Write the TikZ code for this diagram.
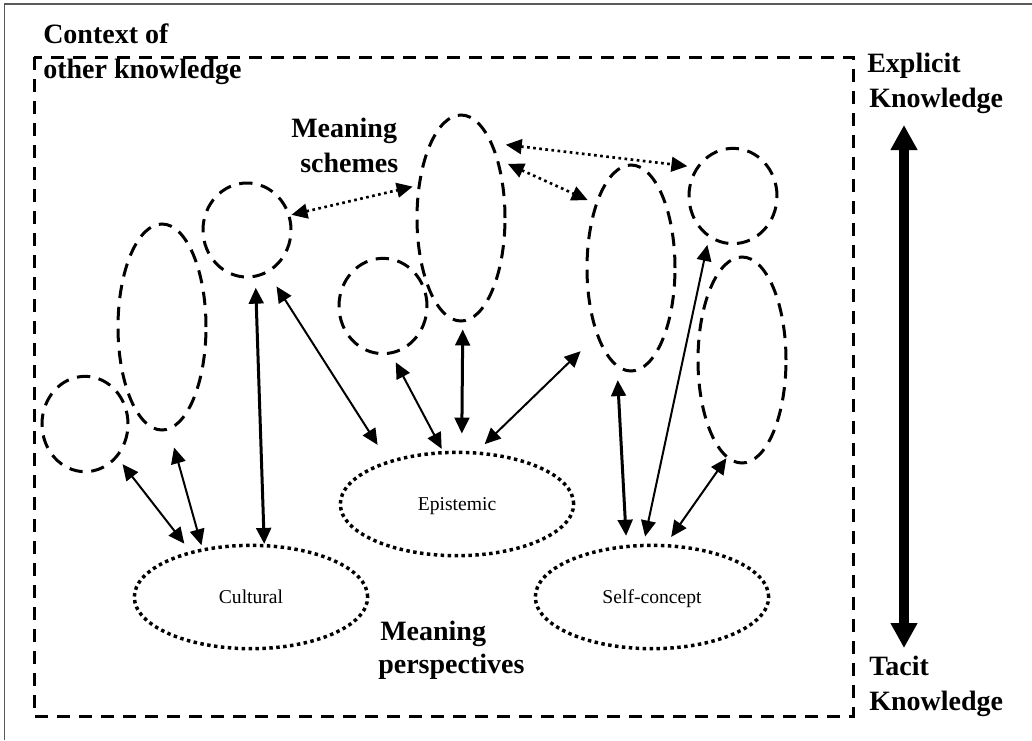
\documentclass[tikz,border=0pt]{standalone}
\usepackage{fontspec}
\setmainfont{Liberation Serif}
\usetikzlibrary{arrows.meta,shapes.geometric}

\begin{document}
\begin{tikzpicture}[x=0.75pt,y=-0.75pt,
  % dashed ellipses: meaning schemes
  scheme/.style={draw, ellipse, inner sep=0pt, line width=2.25pt,
    dash pattern=on 10pt off 6.5pt},
  tall/.style={scheme, minimum width=66pt, minimum height=154.5pt},
  roundish/.style={scheme, minimum width=66pt, minimum height=71.5pt},
  % dotted ellipses: meaning perspectives
  perspective/.style={draw, ellipse, inner sep=0pt, line width=2.6pt,
    dash pattern=on 2.6pt off 2.6pt, minimum width=175pt, minimum height=77.5pt,
    text height=12pt, text depth=3pt,
    font=\fontsize{14.7pt}{17pt}\selectfont},
  heading/.style={anchor=base west, inner sep=0pt,
    font=\fontsize{21pt}{25pt}\selectfont\bfseries},
  link/.style={{Triangle[length=12pt,width=11pt]}-{Triangle[length=12pt,width=11pt]}, line width=1.5pt},
  strong/.style={link, line width=2.25pt},
  dotlink/.style={{Triangle[length=12pt,width=11pt]}-{Triangle[length=12pt,width=11pt]},
    line width=2pt, dash pattern=on 2pt off 2.6pt},
]
\useasboundingbox (0,0) rectangle (1032,740);

% frame lines on the top and left
\draw[line width=1pt, black!65] (4.5,740) -- (4.5,4) -- (1032,4);

% context of other knowledge
\draw[line width=2.25pt, dash pattern=on 9.75pt off 6.75pt] (34,57) rectangle (853,716);

% headings
\node[heading] (ctx1) at (43,43) {Context of};
\node[heading] (ctx2) at (43,78) {other knowledge};
\node[heading] (exp1) at (867,72) {Explicit};
\node[heading] (exp2) at (869,107) {Knowledge};
\node[heading] (tac1) at (869,675) {Tacit};
\node[heading] (tac2) at (869,710) {Knowledge};
\node[heading] (ms1) at (291,137) {Meaning};
\node[heading] (ms2) at (300,172) {schemes};
\node[heading] (mp1) at (380,640) {Meaning};
\node[heading] (mp2) at (378,673) {perspectives};

% meaning schemes
\node[roundish, minimum width=64.5pt] (A) at (85,424) {};
\node[tall] (B) at (162,327) {};
\node[roundish, minimum height=70.5pt] (C) at (247,230) {};
\node[tall] (D) at (461,218) {};
\node[roundish] (E) at (383,306) {};
\node[tall] (F) at (631,268) {};
\node[roundish] (G) at (733,196) {};
\node[tall] (H) at (742,360) {};

% meaning perspectives
\node[perspective] (Cul) at (251,597) {Cultural};
\node[perspective] (Epi) at (457,504) {Epistemic};
\node[perspective] (Self) at (652,597) {Self-concept};

% links between schemes and perspectives
\draw[link, shorten <=6.2pt, shorten >=7.2pt] (A.-46.5) -- (Cul.143);
\draw[link, shorten <=13.5pt, shorten >=2.4pt] (B.-86) -- (Cul.135);
\draw[strong, shorten <=7.5pt, shorten >=0pt] (C.-80) -- (Cul.76);
\draw[link, shorten <=11.9pt, shorten >=14.1pt] (C.-64) -- (Epi.148);
\draw[link, shorten <=6.8pt, shorten >=1.8pt] (E.-80) -- (Epi.105.5);
\draw[strong, shorten <=5.3pt, shorten >=12.8pt] (D.-89) -- (Epi.85);
\draw[link, shorten <=16.5pt, shorten >=7.8pt] (F.-117) -- (Epi.69);
\draw[strong, shorten <=9.5pt, shorten >=6.8pt] (F.-98) -- (Self.116);
\draw[link, shorten <=5.5pt, shorten >=5.5pt] (G.-120) -- (Self.99.6);
\draw[link, shorten <=0pt, shorten >=6.5pt] (H.-99) -- (Self.75);

% links among schemes
\draw[dotlink, shorten <=0.9pt, shorten >=3.9pt] (C.19) -- (D.143);
\draw[dotlink, shorten <=7.5pt, shorten >=6.2pt] (D.57.5) -- (F.119);
\draw[dotlink, shorten <=9.8pt, shorten >=6.6pt] (D.67) -- (G.142.5);

% explicit / tacit axis
\coordinate (up) at (904,125);
\coordinate (down) at (904,648);
\draw[line width=7.5pt, {Triangle[length=18.75pt,width=19pt]}-{Triangle[length=18.75pt,width=19pt]}] (up) -- (down);
\end{tikzpicture}
\end{document}
